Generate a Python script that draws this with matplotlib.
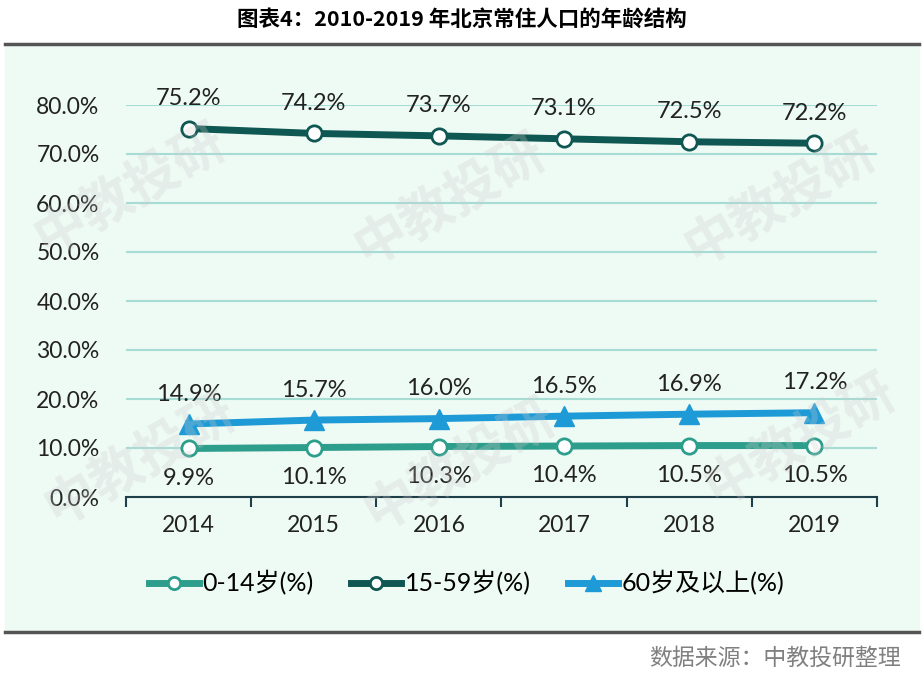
import matplotlib.pyplot as plt
from matplotlib.lines import Line2D
from matplotlib.patches import Rectangle

plt.rcParams['font.family'] = ['Lato', 'Noto Sans CJK SC', 'DejaVu Sans']

years = ['2014', '2015', '2016', '2017', '2018', '2019']
age_0_14 = [9.9, 10.1, 10.3, 10.4, 10.5, 10.5]
age_15_59 = [75.2, 74.2, 73.7, 73.1, 72.5, 72.2]
age_60 = [14.9, 15.7, 16.0, 16.5, 16.9, 17.2]
series_names = ['0-14岁(%)', '15-59岁(%)', '60岁及以上(%)']
colors = ['#2e9e8c', '#0f5752', '#1e9ad6']

fig = plt.figure(figsize=(9.24, 6.79), dpi=100)

# panel background and rules
fig.patches.append(Rectangle((0.005, 1 - 632 / 679), 0.99, (632 - 45) / 679,
                             transform=fig.transFigure, color='#eefaf4', zorder=-5))
fig.add_artist(Line2D([0.005, 0.995], [1 - 44 / 679] * 2, color='#555555', lw=2.5))
fig.add_artist(Line2D([0.005, 0.995], [1 - 632 / 679] * 2, color='#555555', lw=2.5))

fig.text(0.5, 1 - 20 / 679, '图表4：2010-2019 年北京常住人口的年龄结构', ha='center', va='center',
         fontsize=15.5, fontweight='bold', family=['Noto Sans CJK SC'])
fig.text(0.975, 1 - 658 / 679, '数据来源：中教投研整理', ha='right', va='center',
         fontsize=16.5, color='#808080', family=['Noto Sans CJK SC'])

ax = fig.add_axes([126 / 924, 1 - 497 / 679, (877 - 126) / 924, (497 - 105) / 679])
ax.set_facecolor('none')
x = list(range(len(years)))
ax.set_xlim(-0.5, len(years) - 0.5)
ax.set_ylim(0, 80)

ax.plot(x, age_0_14, color=colors[0], lw=5, marker='o', ms=11, mfc='white',
        mec=colors[0], mew=2, label=series_names[0], zorder=3)
ax.plot(x, age_15_59, color=colors[1], lw=5, marker='o', ms=11, mfc='white',
        mec=colors[1], mew=2, label=series_names[1], zorder=3)
ax.plot(x, age_60, color=colors[2], lw=5, marker='^', ms=14, mfc=colors[2],
        mec=colors[2], label=series_names[2], zorder=3)

for i in x:
    ax.annotate(f'{age_15_59[i]:.1f}%', (i, age_15_59[i]), xytext=(0, 14),
                textcoords='offset points', ha='center', va='bottom', fontsize=17,
                color='#222222', annotation_clip=False)
    ax.annotate(f'{age_60[i]:.1f}%', (i, age_60[i]), xytext=(0, 14),
                textcoords='offset points', ha='center', va='bottom', fontsize=17,
                color='#222222', annotation_clip=False)
    ax.annotate(f'{age_0_14[i]:.1f}%', (i, age_0_14[i]), xytext=(0, -14),
                textcoords='offset points', ha='center', va='top', fontsize=17,
                color='#222222', annotation_clip=False)

ax.set_yticks(range(0, 81, 10))
ax.set_yticklabels([f'{v:.1f}%' for v in range(0, 81, 10)], fontsize=16.5, color='#222222')
ax.set_xticks(x)
ax.set_xticklabels(years, fontsize=16.5, color='#222222')
ax.set_xticks([i - 0.5 for i in range(len(years) + 1)], minor=True)
ax.tick_params(axis='x', which='major', length=0, pad=13)
ax.tick_params(axis='x', which='minor', length=7, width=1.5, color='#1f3f4a', direction='out')
ax.tick_params(axis='y', length=0, pad=19)
ax.grid(axis='y', color='#a6dcd4', lw=1.5)
ax.set_axisbelow(True)
for s in ['top', 'right', 'left']:
    ax.spines[s].set_visible(False)
ax.spines['bottom'].set_color('#1f3f4a')
ax.spines['bottom'].set_linewidth(1.5)
ax.spines['bottom'].set_zorder(4)

leg = ax.legend(loc='center left', bbox_to_anchor=(0.03, -0.22), ncol=3, frameon=False,
                fontsize=18, handlelength=2.0, columnspacing=1.5, handletextpad=0.15,
                markerscale=0.8, borderaxespad=0.0, borderpad=0.0)

# watermarks
for wx, wy in [(130, 190), (450, 200), (780, 200), (140, 460), (460, 465), (800, 440)]:
    fig.text(wx / 924, 1 - wy / 679, '中教投研', ha='center', va='center', fontsize=38,
             fontweight='bold', rotation=30, color='#cccccc', alpha=0.28,
             family=['Noto Sans CJK SC'], zorder=5)

fig.savefig('out.png', dpi=100)
